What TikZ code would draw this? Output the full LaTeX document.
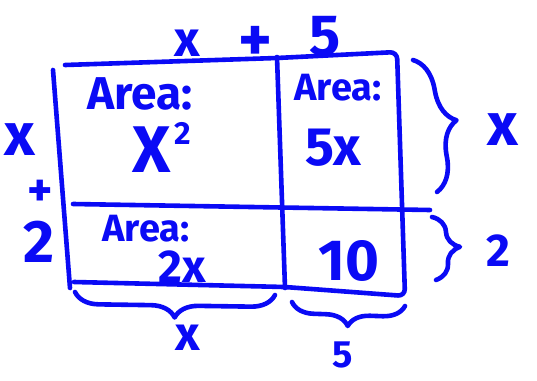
\documentclass[tikz,border=0pt]{standalone}
\usepackage{fontspec}
\setmainfont{Fira Sans}
\usetikzlibrary{decorations.pathreplacing}
\definecolor{ink}{RGB}{10,10,245}
\tikzset{
  pen/.style={draw=ink,line width=4.6pt,line cap=round,line join=round},
  lbl/.style={text=ink,inner sep=0pt,anchor=base},
  hbrace/.style={pen,decorate,decoration={brace,amplitude=#1}},
}
\newcommand{\fs}[1]{\fontsize{#1}{#1}\selectfont\bfseries}
\begin{document}
\begin{tikzpicture}[x=1pt,y=-1pt]
\useasboundingbox[fill=white] (0,0) rectangle (537,380);
% outline
\draw[pen,rounded corners=7pt] (65,65) -- (277,58) -- (397,52) -- (405,296) -- (285,287) -- (74,282);
\draw[pen] (53,70) -- (70,288);
\draw[pen] (277,57) -- (285,288);
\draw[pen] (73,204) -- (430,210);
% braces
\draw[hbrace=32pt] (413,60) -- (437,192);
\draw[hbrace=26pt] (432,217) -- (436,280);
\draw[hbrace=24pt] (275,295) -- (75,292);
\draw[hbrace=22pt] (405,306) -- (292,302);
% top labels
\node[lbl,font=\fs{50}] (tx) at (187,56) {x};
\node[lbl,font=\fs{64}] (tp) at (255,61) {+};
\node[lbl,font=\fs{58}] (t5) at (325,55) {5};
% left labels
\node[lbl,font=\fs{60}] (lx) at (20,155) {x};
\node[lbl,font=\fs{48}] (lp) at (40,206) {+};
\node[lbl,font=\fs{60}] (l2) at (39,262) {2};
% right labels
\node[lbl,font=\fs{60}] (rx) at (503,145) {x};
\node[lbl,font=\fs{46}] (r2) at (498,266) {2};
% bottom labels
\node[lbl,font=\fs{48}] (bx) at (188,350) {x};
\node[lbl,font=\fs{38}] (b5) at (343,367) {5};
% areas
\node[lbl,font=\fs{46}] (a1) at (140,109) {Area:};
\node[lbl,font=\fs{66}] (a1v) at (162,172) {X\hspace{4pt}\raisebox{28pt}{\fs{32}2}};
\node[lbl,font=\fs{38}] (a2) at (338,100) {Area:};
\node[lbl,font=\fs{54}] (a2v) at (333,165) {5x};
\node[lbl,font=\fs{38}] (a3) at (146,241) {Area:};
\node[lbl,font=\fs{46}] (a3v) at (182,282) {2x};
\node[lbl,font=\fs{58}] (a4v) at (349,280) {10};
\end{tikzpicture}
\end{document}
